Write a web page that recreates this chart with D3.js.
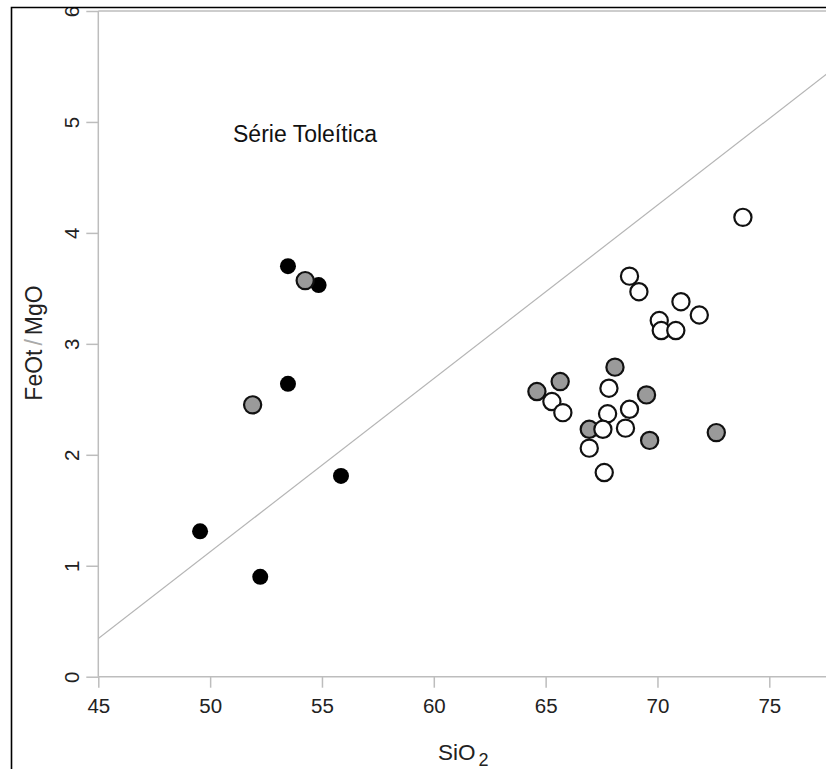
<!DOCTYPE html>
<html>
<head>
<meta charset="utf-8">
<script src="https://cdn.jsdelivr.net/npm/d3@7"></script>
<style>
  html, body { margin: 0; padding: 0; background: #fff; }
  svg { display: block; }
  text { font-family: "Liberation Sans", Arial, sans-serif; }
</style>
</head>
<body>
<svg id="chart" width="826" height="769"></svg>
<script>
// Tick values
const xTicks = [45, 50, 55, 60, 65, 70, 75];
const yTicks = [0, 1, 2, 3, 4, 5, 6];

// Samples: SiO2 (wt%) and FeOt/MgO
const blackSiO2  = [53.48, 54.85, 53.48, 49.55, 52.24, 55.85];
const blackRatio = [3.70, 3.53, 2.64, 1.31, 0.90, 1.81];

const graySiO2  = [54.25, 51.90, 68.10, 65.65, 64.61, 69.51, 66.95, 69.65, 72.63];
const grayRatio = [3.57, 2.45, 2.79, 2.66, 2.57, 2.54, 2.23, 2.13, 2.20];

const openSiO2  = [68.75, 69.17, 71.05, 70.08, 70.17, 70.82, 71.87, 73.82,
                   67.83, 65.28, 65.77, 67.77, 68.75, 67.56, 68.57, 66.95, 67.62];
const openRatio = [3.61, 3.47, 3.38, 3.21, 3.12, 3.12, 3.26, 4.14,
                   2.60, 2.48, 2.38, 2.37, 2.41, 2.23, 2.24, 2.06, 1.84];

// Tholeiitic / calc-alkaline divide: SiO2 = 6.4 * FeOt/MgO + 42.8
const divideSlope = 6.4;
const divideIntercept = 42.8;
const divideSiO2 = [45, 80];

const svg = d3.select("#chart");
const W = 826, H = 769;

const x = d3.scaleLinear().domain([45, 75]).range([98.3, 769.3]);
const y = d3.scaleLinear().domain([0, 6]).range([676.7, 11]);

const axisColor = "#bdbdbd";
const textColor = "#222";
const fontFamily = "'Liberation Sans', Arial, sans-serif";

// Frame clip (everything lives inside the black frame)
const defs = svg.append("defs");
defs.append("clipPath").attr("id", "frame")
  .append("rect").attr("x", 11).attr("y", 7).attr("width", W - 11).attr("height", H - 7);
defs.append("clipPath").attr("id", "plot")
  .append("rect").attr("x", x(45)).attr("y", y(6)).attr("width", W - x(45)).attr("height", y(0) - y(6));

const root = svg.append("g").attr("clip-path", "url(#frame)");

// Axes (R style: outward ticks, grey lines)
const xAxis = d3.axisBottom(x).tickValues(xTicks).tickSize(11).tickPadding(11)
  .tickFormat(d3.format("d"));
const gx = root.append("g").attr("transform", `translate(0,${y(0)})`).call(xAxis);
gx.attr("font-size", null).attr("font-family", null);
gx.select(".domain").remove();
gx.selectAll(".tick line").attr("stroke", axisColor).attr("stroke-width", 1.5);
gx.selectAll(".tick text").attr("fill", textColor)
  .style("font-size", "20.5px").style("font-family", fontFamily);

const yAxis = d3.axisLeft(y).tickValues(yTicks).tickSize(12).tickPadding(0)
  .tickFormat(d3.format("d"));
const gy = root.append("g").attr("transform", `translate(${x(45)},0)`).call(yAxis);
gy.attr("font-size", null).attr("font-family", null);
gy.select(".domain").remove();
gy.selectAll(".tick line").attr("stroke", axisColor).attr("stroke-width", 1.5);
gy.selectAll(".tick text")
  .attr("fill", textColor)
  .style("font-size", "20.5px").style("font-family", fontFamily)
  .attr("x", null).attr("dy", null)
  .attr("text-anchor", "middle")
  .attr("transform", "translate(-19.5,0) rotate(-90)");

// Axis lines and top border
root.append("line").attr("x1", x(45)).attr("x2", W).attr("y1", y(0)).attr("y2", y(0))
  .attr("stroke", axisColor).attr("stroke-width", 1.5);
root.append("line").attr("x1", x(45)).attr("x2", x(45)).attr("y1", y(6)).attr("y2", y(0))
  .attr("stroke", axisColor).attr("stroke-width", 1.5);
root.append("line").attr("x1", x(45)).attr("x2", W).attr("y1", y(6)).attr("y2", y(6))
  .attr("stroke", axisColor).attr("stroke-width", 1.5);

// Divide line
const plot = root.append("g").attr("clip-path", "url(#plot)");
plot.append("path")
  .datum(divideSiO2.map(s => [s, (s - divideIntercept) / divideSlope]))
  .attr("d", d3.line().x(d => x(d[0])).y(d => y(d[1])))
  .attr("fill", "none").attr("stroke", "#b5b5b5").attr("stroke-width", 1.2);

// Points
const pts = (xs, ys) => xs.map((s, i) => ({ s, r: ys[i] }));
const marks = root.append("g");

marks.selectAll("circle.black").data(pts(blackSiO2, blackRatio)).join("circle")
  .attr("class", "black")
  .attr("cx", d => x(d.s)).attr("cy", d => y(d.r)).attr("r", 8)
  .attr("fill", "#000");

marks.selectAll("circle.gray").data(pts(graySiO2, grayRatio)).join("circle")
  .attr("class", "gray")
  .attr("cx", d => x(d.s)).attr("cy", d => y(d.r)).attr("r", 8.6)
  .attr("fill", "#9a9a9a").attr("stroke", "#111").attr("stroke-width", 2.2);

marks.selectAll("circle.open").data(pts(openSiO2, openRatio)).join("circle")
  .attr("class", "open")
  .attr("cx", d => x(d.s)).attr("cy", d => y(d.r)).attr("r", 8.6)
  .attr("fill", "#fff").attr("stroke", "#111").attr("stroke-width", 2.2);

// Annotation
root.append("text").attr("x", 233).attr("y", 142)
  .attr("fill", "#111").style("font-size", "23px")
  .text("Série Toleítica");

// Axis titles
const xt = root.append("text").attr("x", 438).attr("y", 760)
  .attr("fill", textColor).style("font-size", "22.5px");
xt.append("tspan").text("SiO");
xt.append("tspan").attr("dx", 3).attr("dy", 5.5).style("font-size", "18px").text("2");

const yt = root.append("text")
  .attr("transform", `translate(42,${343}) rotate(-90)`)
  .attr("text-anchor", "middle")
  .attr("fill", textColor).style("font-size", "23px");
yt.append("tspan").text("FeOt");
yt.append("tspan").attr("fill", "#aaa").style("font-weight", "300").attr("dx", 4).text("/");
yt.append("tspan").attr("dx", 4).text("MgO");

// Black frame (left and top edges)
svg.append("path")
  .attr("d", `M11.5,${H} L11.5,7.5 L${W},7.5`)
  .attr("fill", "none").attr("stroke", "#000").attr("stroke-width", 1.6);
</script>
</body>
</html>
